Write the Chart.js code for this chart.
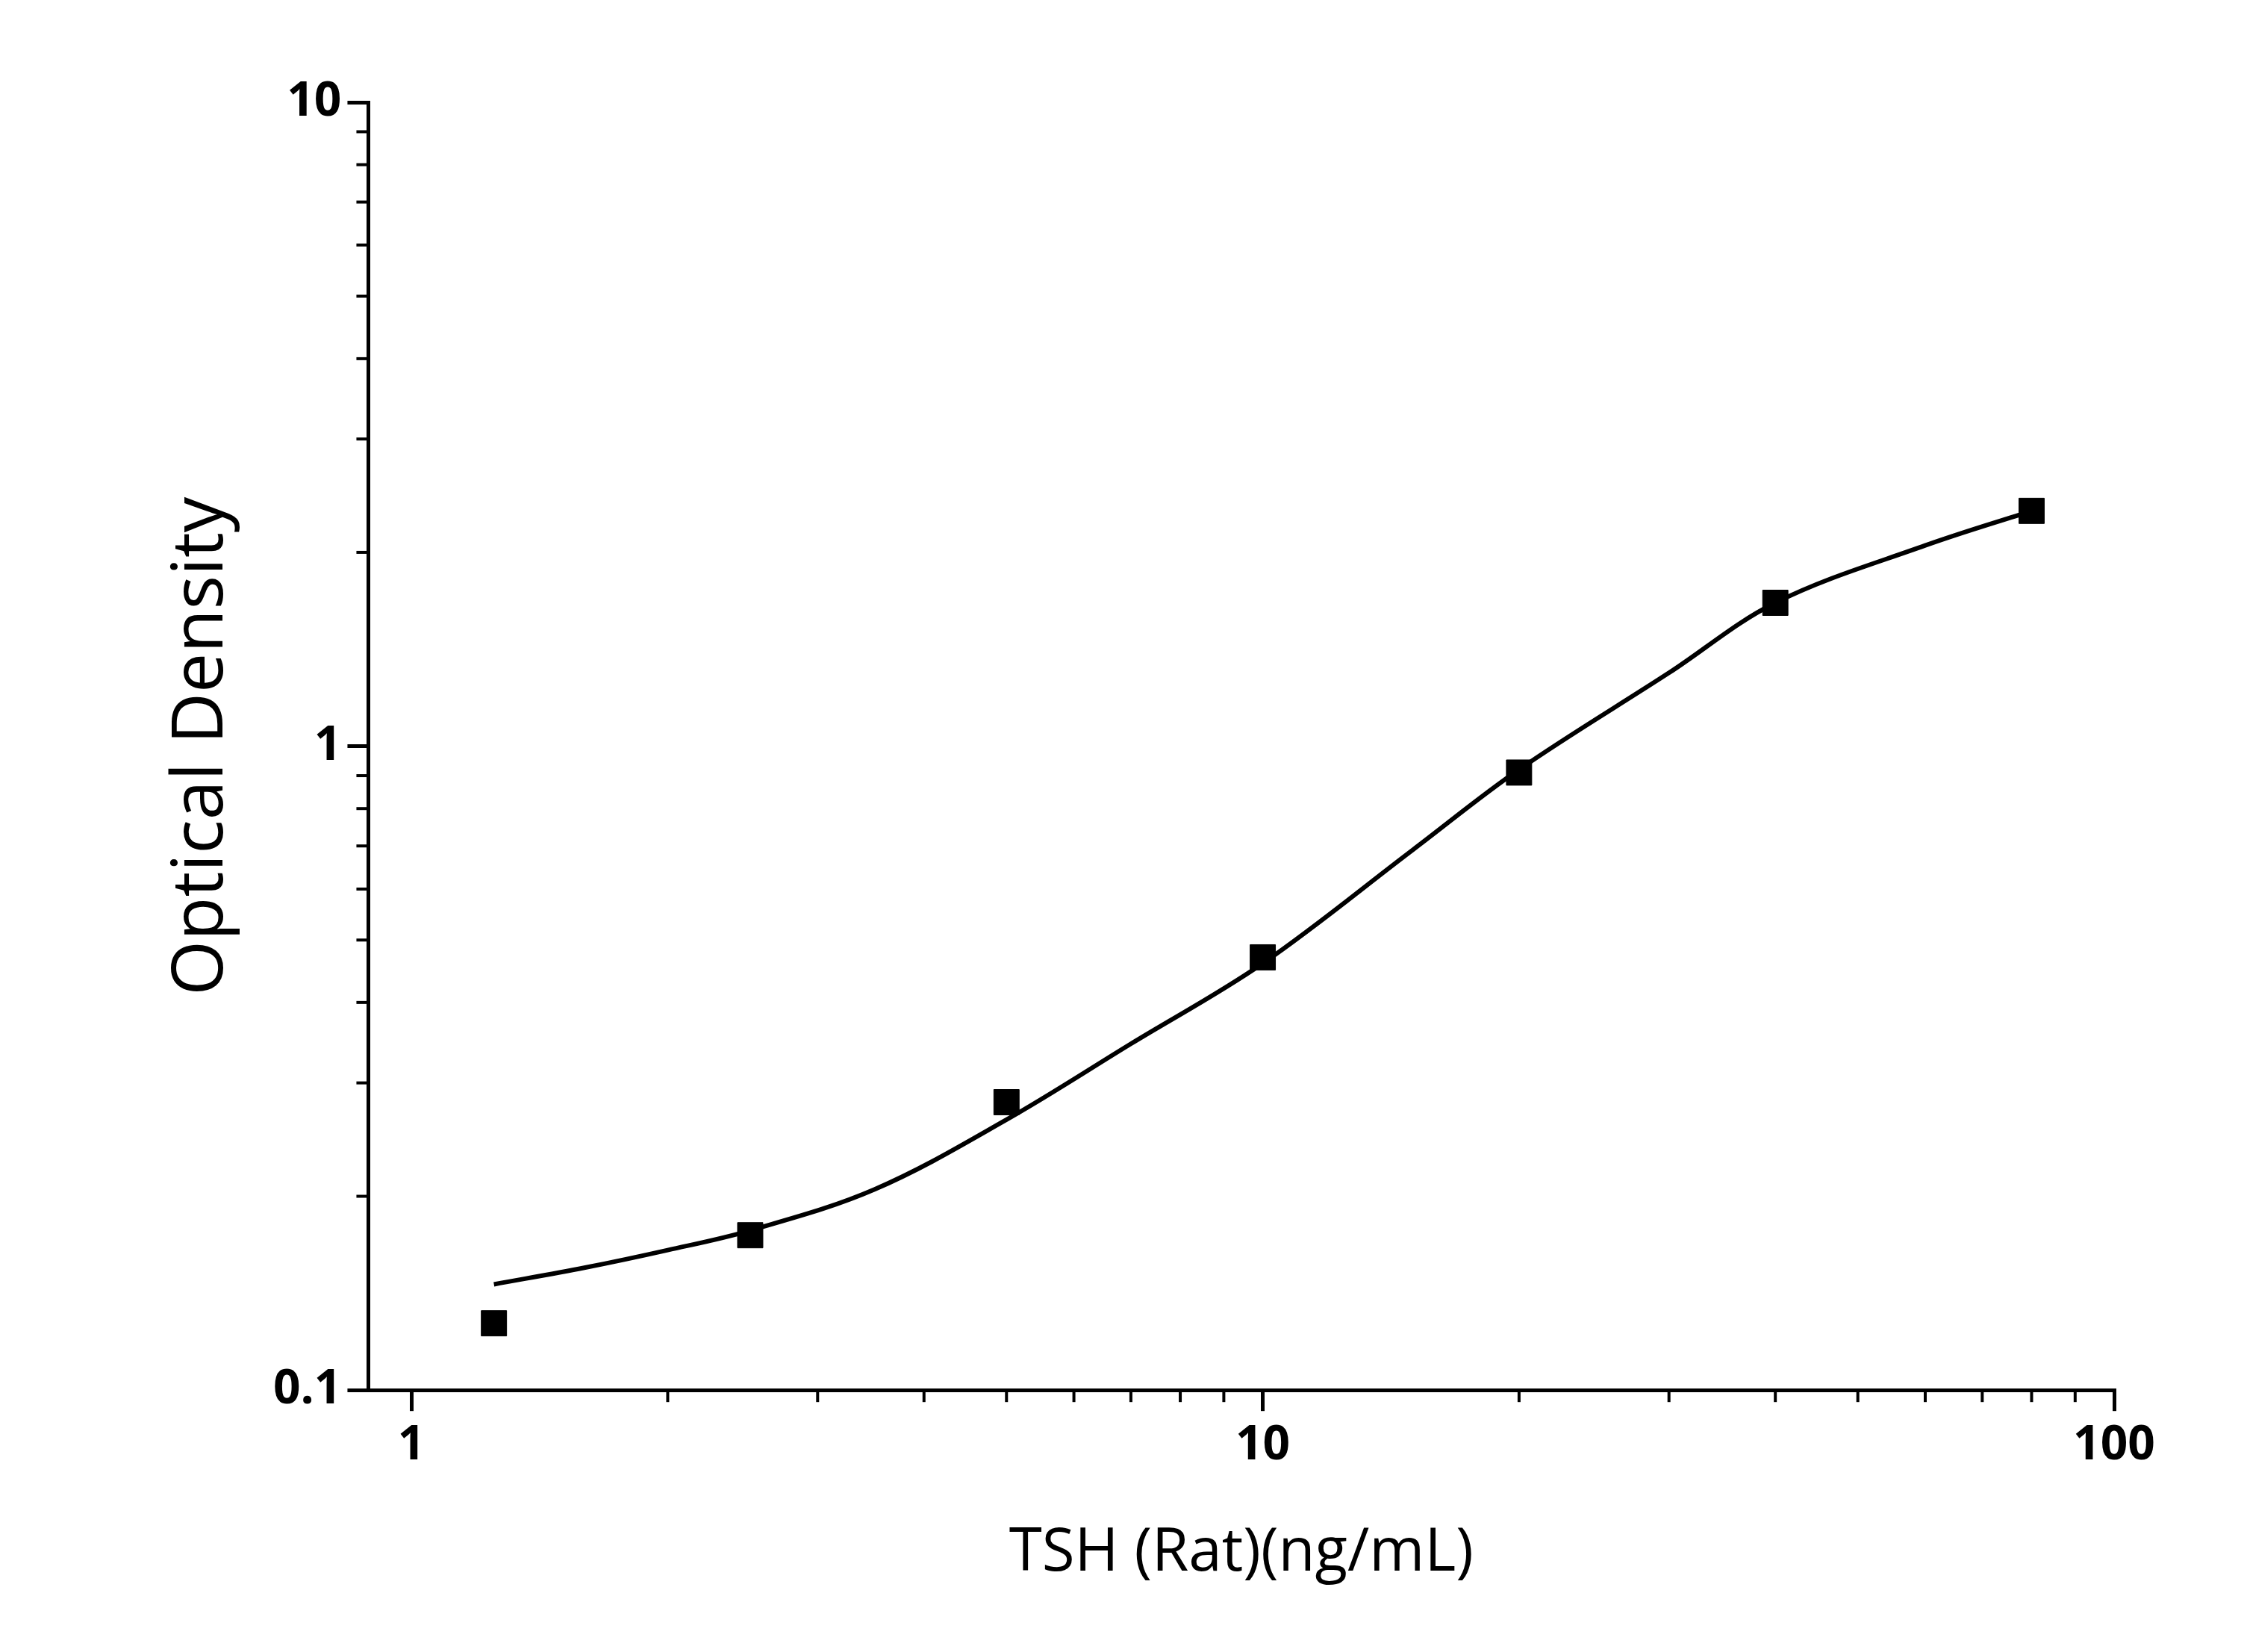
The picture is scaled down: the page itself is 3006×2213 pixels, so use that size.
<!DOCTYPE html>
<html>
<head>
<meta charset="utf-8">
<script src="https://cdn.jsdelivr.net/npm/chart.js@4/dist/chart.umd.min.js"></script>
<style>
  body { margin: 0; background: #fff; }
  #wrap { width: 3006px; height: 2213px; }
</style>
</head>
<body>
<div id="wrap"><canvas id="chart"></canvas></div>
<script>
// measured standards
const concentrations = [1.25, 2.5, 5, 10, 20, 40, 80];
const densities = [0.127, 0.174, 0.28, 0.47, 0.91, 1.67, 2.32];

// fitted curve
const curveX = [1.25, 1.6, 2, 2.5, 3.5, 5, 7, 10, 15, 20, 30, 40, 60, 80];
const curveY = [0.146, 0.155, 0.165, 0.177, 0.205, 0.263, 0.345, 0.46, 0.69, 0.92, 1.30, 1.67, 2.05, 2.32];

const xMajor = [1, 10, 100];
const yMajor = [0.1, 1, 10];

function logTicks(min, max) {
  const out = [];
  for (let d = Math.floor(Math.log10(min)); d < Math.log10(max); d++) {
    for (let m = 1; m < 10; m++) {
      const v = m * Math.pow(10, d);
      if (v >= min * 0.999 && v <= max * 1.001) out.push(v);
    }
  }
  out.push(max);
  return out;
}

const minorTicks = {
  id: "minorTicks",
  afterDraw(chart) {
    const ctx = chart.ctx;
    ctx.save();
    ctx.strokeStyle = "#000";
    ctx.lineWidth = 4;
    const xs = chart.scales.x, ys = chart.scales.y;
    logTicks(1, 100).forEach(v => {
      if (xMajor.includes(v)) return;
      const px = xs.getPixelForValue(v);
      ctx.beginPath();
      ctx.moveTo(px, xs.top);
      ctx.lineTo(px, xs.top + 16);
      ctx.stroke();
    });
    logTicks(0.1, 10).forEach(v => {
      if (yMajor.some(m => Math.abs(m - v) < 1e-9)) return;
      const py = ys.getPixelForValue(v);
      ctx.beginPath();
      ctx.moveTo(ys.right, py);
      ctx.lineTo(ys.right - 16, py);
      ctx.stroke();
    });
    ctx.restore();
  }
};

new Chart(document.getElementById("chart"), {
  type: "scatter",
  data: {
    datasets: [
      {
        type: "line",
        data: curveX.map((x, i) => ({ x: x, y: curveY[i] })),
        borderColor: "#000",
        borderWidth: 6,
        pointRadius: 0,
        tension: 0.35
      },
      {
        data: concentrations.map((x, i) => ({ x: x, y: densities[i] })),
        backgroundColor: "#000",
        borderColor: "#000",
        pointStyle: "rect",
        pointRadius: 24
      }
    ]
  },
  plugins: [minorTicks],
  options: {
    responsive: true,
    maintainAspectRatio: false,
    animation: false,
    layout: { padding: { top: 137, right: 174, left: 210, bottom: 80 } },
    plugins: { legend: { display: false }, tooltip: { enabled: false } },
    scales: {
      x: {
        type: "logarithmic",
        min: 0.89,
        max: 100,
        afterBuildTicks: s => { s.ticks = xMajor.map(v => ({ value: v })); },
        ticks: {
          color: "#000",
          font: { family: "Open Sans", size: 64, weight: "bold" },
          padding: 8,
          callback: v => String(v)
        },
        grid: { drawOnChartArea: false, color: "#000", lineWidth: 5, tickLength: 28, tickColor: "#000" },
        border: { color: "#000", width: 5 },
        title: {
          display: true,
          text: "TSH (Rat)(ng/mL)",
          color: "#000",
          font: { family: "Open Sans", size: 80 },
          padding: { top: 50 }
        }
      },
      y: {
        type: "logarithmic",
        min: 0.1,
        max: 10,
        afterBuildTicks: s => { s.ticks = yMajor.map(v => ({ value: v })); },
        ticks: {
          color: "#000",
          font: { family: "Open Sans", size: 64, weight: "bold" },
          padding: 8,
          callback: v => String(v)
        },
        grid: { drawOnChartArea: false, color: "#000", lineWidth: 5, tickLength: 28, tickColor: "#000" },
        border: { color: "#000", width: 5 },
        title: {
          display: true,
          text: "Optical Density",
          color: "#000",
          font: { family: "Open Sans", size: 95 },
          padding: { bottom: 30 }
        }
      }
    }
  }
});
</script>
</body>
</html>
